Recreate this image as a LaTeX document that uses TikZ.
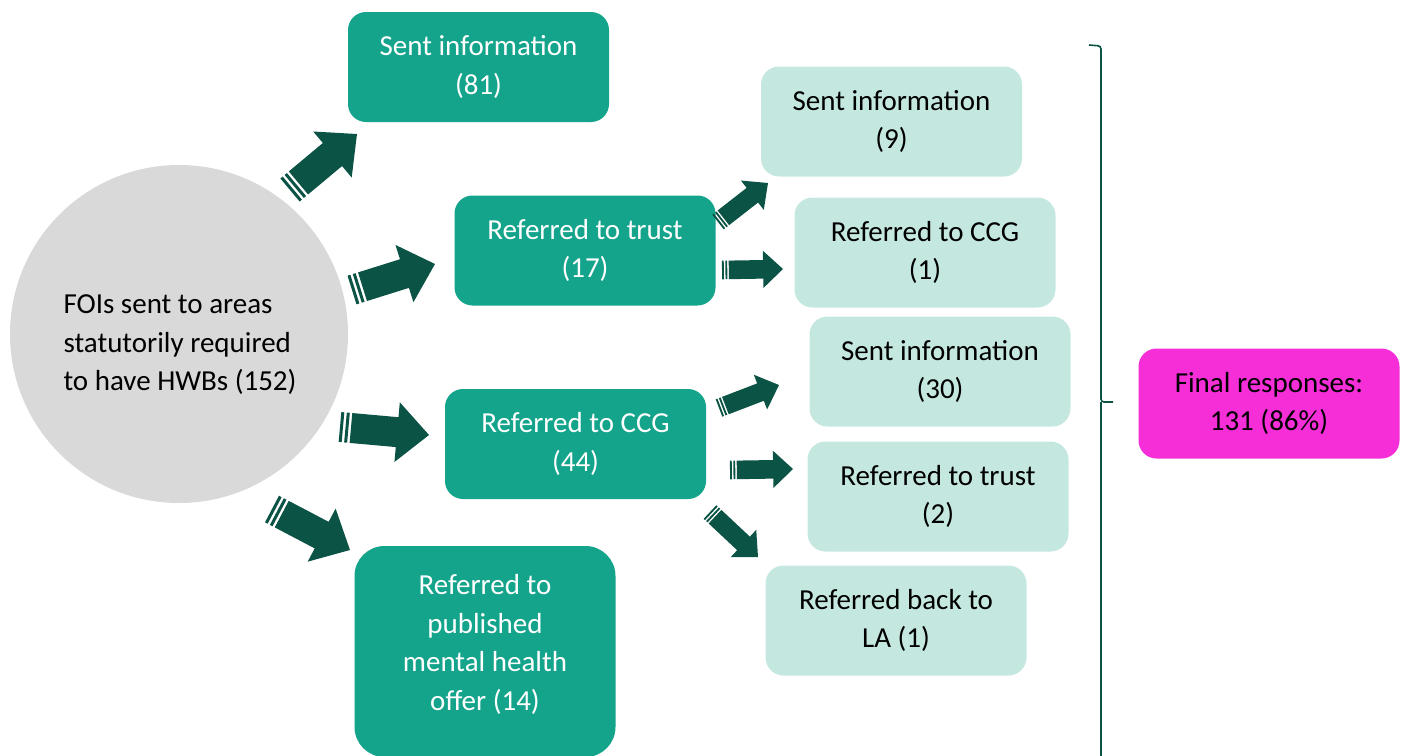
\documentclass[tikz,border=0pt]{standalone}
\usepackage{fontspec}
\setmainfont{Carlito}
\usetikzlibrary{calc}

\definecolor{tealFill}{HTML}{14A38B}
\definecolor{lightFill}{HTML}{C4E8E0}
\definecolor{arrowGreen}{HTML}{0B5345}
\definecolor{circleGrey}{HTML}{D9D9D9}
\definecolor{pinkFill}{HTML}{F52ED8}

\newcommand{\boxFont}{\fontsize{29}{38.5}\selectfont}

% striped block arrow from tail to tip, optional size factor
\newcommand{\stripedArrow}[3][1]{%
  \path let \p1 = ($(#3)-(#2)$) in
    \pgfextra{\pgfmathsetmacro{\arrAngle}{atan2(\y1,\x1)}%
      \pgfmathsetmacro{\arrLen}{veclen(\x1,\y1)}%
      \global\let\arrAngle\arrAngle \global\let\arrLen\arrLen};
  \begin{scope}[shift={(#2)}, rotate=\arrAngle, x=1pt, y=1pt]
    \fill[arrowGreen] ({11*#1},{-15*#1}) -- ({\arrLen-32*#1},{-15*#1}) -- ({\arrLen-32*#1},{-30*#1})
      -- (\arrLen,0) -- ({\arrLen-32*#1},{30*#1}) -- ({\arrLen-32*#1},{15*#1}) -- ({11*#1},{15*#1}) -- cycle;
    \fill[arrowGreen] (0,{-15*#1}) rectangle ({3*#1},{15*#1});
    \fill[arrowGreen] ({5.5*#1},{-15*#1}) rectangle ({8.5*#1},{15*#1});
  \end{scope}}

\begin{document}
\begin{tikzpicture}[x=1pt, y=-1pt,
    darkBox/.style = {rectangle, rounded corners=18pt, fill=tealFill, text=white, align=center,
      minimum width=261pt, minimum height=110pt, inner sep=0pt, font=\boxFont},
    lightBox/.style = {darkBox, fill=lightFill, text=black},
    braceLine/.style = {draw=arrowGreen, line width=1.6pt}]
    \useasboundingbox (0,0) rectangle (1405,755);

    % start circle
    \node[circle, fill=circleGrey, minimum size=338pt, inner sep=0pt](foi) at (179,334) {};
    \node[align = left, font=\boxFont](foiText) at (180,345) {FOIs sent to areas\\statutorily required\\to have HWBs (152)};

    % first replies
    \node[darkBox](sentInfo) at (478.5,67) {Sent information\\(81)};
    \node[darkBox](toTrust) at (585,250.5) {Referred to trust\\(17)};
    \node[darkBox](toCCG) at (575.5,444) {Referred to CCG\\(44)};
    \node[darkBox, rounded corners=30pt, minimum height=211pt, text depth=18pt](toOffer) at (485,651.5) {Referred to\\published\\mental health\\offer (14)};

    % second replies
    \node[lightBox](trustSent) at (891.5,121.5) {Sent information\\(9)};
    \node[lightBox](trustCCG) at (925,252.5) {Referred to CCG\\(1)};
    \node[lightBox](ccgSent) at (940,371.5) {Sent information\\(30)};
    \node[lightBox](ccgTrust) at (938,496.5) {Referred to trust\\(2)};
    \node[lightBox](ccgBack) at (896,620.5) {Referred back to\\LA (1)};

    \node[darkBox, fill=pinkFill, text=black](finalResp) at (1269,403.5) {Final responses:\\131 (86\%)};

    % arrow ends
    \coordinate (sentTail) at (290,190);   \coordinate (sentTip) at (357,134);
    \coordinate (trustTail) at (352,290);  \coordinate (trustTip) at (435,264);
    \coordinate (ccgTail) at (340,427);    \coordinate (ccgTip) at (429,435);
    \coordinate (offerTail) at (272,509);  \coordinate (offerTip) at (350,550);
    \coordinate (tsTail) at (718,222);     \coordinate (tsTip) at (768,183);
    \coordinate (tcTail) at (722,270);     \coordinate (tcTip) at (783,269);
    \coordinate (csTail) at (719,408);     \coordinate (csTip) at (779,385);
    \coordinate (ctTail) at (730,470);     \coordinate (ctTip) at (793,469);
    \coordinate (cbTail) at (710,512);     \coordinate (cbTip) at (758,557);

    \stripedArrow{sentTail}{sentTip}
    \stripedArrow{trustTail}{trustTip}
    \stripedArrow{ccgTail}{ccgTip}
    \stripedArrow{offerTail}{offerTip}
    \stripedArrow[0.62]{tsTail}{tsTip}
    \stripedArrow[0.62]{tcTail}{tcTip}
    \stripedArrow[0.62]{csTail}{csTip}
    \stripedArrow[0.62]{ctTail}{ctTip}
    \stripedArrow[0.62]{cbTail}{cbTip}

    % brace
    \coordinate (braceTop) at (1089,45);
    \coordinate (braceMid) at (1101,402);
    \coordinate (braceTick) at (1113,402);
    \draw[braceLine, rounded corners=3pt] (braceTop) -- (1101,46) -- (braceMid) -- (braceTick);
    \draw[braceLine] (braceMid) -- (1101,760);
\end{tikzpicture}
\end{document}
